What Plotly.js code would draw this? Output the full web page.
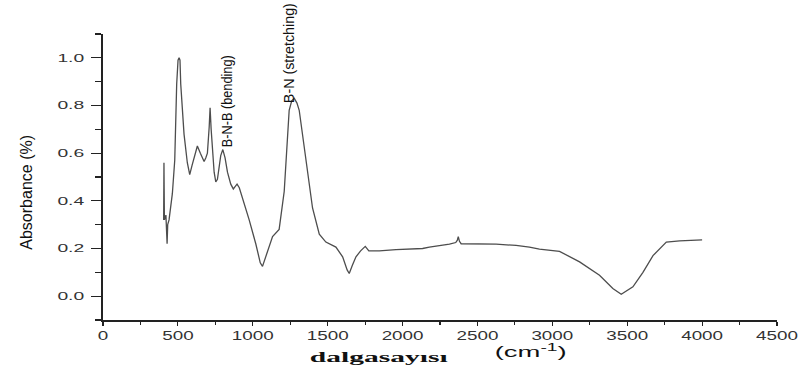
<!DOCTYPE html>
<html>
<head>
<meta charset="utf-8">
<script src="https://cdn.plot.ly/plotly-3.0.1.min.js"></script>
<style>html,body{margin:0;padding:0;background:#fff;}#chart{width:808px;height:376px;}</style>
</head>
<body>
<div id="chart"></div>
<script>
// Wavenumber (cm^-1)
const wavenumber = [405, 407, 410, 420, 428, 432, 441, 463, 479, 492, 501, 508, 514, 519, 541, 563, 579, 595, 608, 630, 650, 675, 686, 697, 709, 715, 722, 731, 742, 753, 764, 786, 800, 815, 831, 853, 870, 882, 895, 910, 931, 976, 1020, 1050, 1065, 1087, 1132, 1176, 1210, 1243, 1260, 1277, 1295, 1310, 1355, 1399, 1444, 1488, 1555, 1600, 1630, 1644, 1665, 1689, 1720, 1751, 1775, 1845, 1956, 2134, 2179, 2313, 2355, 2366, 2372, 2380, 2391, 2469, 2625, 2758, 2847, 2914, 3048, 3182, 3315, 3404, 3460, 3538, 3605, 3672, 3716, 3761, 3850, 4000];
// Absorbance
const absorbance = [0.32, 0.56, 0.32, 0.34, 0.22, 0.30, 0.32, 0.43, 0.57, 0.89, 0.99, 1.00, 0.99, 0.89, 0.68, 0.56, 0.51, 0.55, 0.58, 0.63, 0.60, 0.565, 0.58, 0.60, 0.71, 0.79, 0.70, 0.62, 0.52, 0.48, 0.49, 0.59, 0.615, 0.58, 0.52, 0.47, 0.45, 0.46, 0.47, 0.455, 0.415, 0.32, 0.22, 0.14, 0.125, 0.165, 0.25, 0.28, 0.44, 0.78, 0.82, 0.83, 0.81, 0.78, 0.58, 0.37, 0.26, 0.227, 0.206, 0.165, 0.11, 0.095, 0.13, 0.165, 0.19, 0.209, 0.19, 0.19, 0.195, 0.20, 0.206, 0.218, 0.225, 0.235, 0.25, 0.23, 0.22, 0.22, 0.218, 0.213, 0.206, 0.197, 0.188, 0.144, 0.088, 0.032, 0.008, 0.039, 0.10, 0.17, 0.20, 0.227, 0.232, 0.236];
// Axis ticks
const xTicks = [0, 500, 1000, 1500, 2000, 2500, 3000, 3500, 4000, 4500];
const yTicks = [0.0, 0.2, 0.4, 0.6, 0.8, 1.0];
// Texts
const peakLabels = ["B-N-B (bending)", "B-N (stretching)"];
const peakLabelX = [829, 1244];
const peakLabelY = [0.816, 1.021];
const xTitleWord = "dalgasayısı";
const xTitleUnit = "(cm<sup>-1</sup>)";
const yTitle = "Absorbance (%)";

const sans = "Liberation Sans, Arial, sans-serif";

const trace = {
  x: wavenumber, y: absorbance, type: 'scatter', mode: 'lines',
  line: {color: '#4d4d4d', width: 1.3}, hoverinfo: 'skip'
};

const annotations = peakLabels.map((t, i) => ({
  text: t, x: peakLabelX[i], y: peakLabelY[i], xref: 'x', yref: 'y',
  textangle: -90, showarrow: false, xanchor: 'center', yanchor: 'middle',
  font: {family: sans, size: 14, color: '#111'}
}));
annotations.push({
  text: '<b>' + xTitleWord + '</b>', xref: 'paper', yref: 'paper', x: 0.409, y: -0.13,
  xanchor: 'center', yanchor: 'middle', showarrow: false,
  font: {family: 'Liberation Serif, Times New Roman, serif', size: 14, color: '#111'}
});
annotations.push({
  text: xTitleUnit, xref: 'paper', yref: 'paper', x: 0.634, y: -0.106,
  xanchor: 'center', yanchor: 'middle', showarrow: false,
  font: {family: sans, size: 15, color: '#111'}
});
annotations.push({
  text: yTitle, xref: 'paper', yref: 'paper', x: -0.113, y: 0.448,
  xanchor: 'center', yanchor: 'middle', showarrow: false, textangle: -90,
  font: {family: sans, size: 16, color: '#111'}
});
// target drawn lengths (px) of the annotation texts, same order as annotations
const annotationLengths = [92, 100, 138, 72, null];

const layout = {
  width: 808, height: 376,
  margin: {l: 103, r: 31, t: 34, b: 56, pad: 0},
  paper_bgcolor: '#fff', plot_bgcolor: '#fff',
  showlegend: false,
  font: {family: sans, size: 12, color: '#333'},
  xaxis: {
    range: [0, 4500], tickvals: xTicks, ticktext: xTicks.map(String),
    ticks: 'outside', ticklen: 4, tickwidth: 1.2, tickcolor: '#222',
    showline: true, linecolor: '#222', linewidth: 1.6,
    showgrid: false, zeroline: false, ticklabelstandoff: 0,
    minor: {dtick: 250, tick0: 0, ticks: 'outside', ticklen: 3, tickcolor: '#222', showgrid: false},
    tickfont: {family: sans, size: 12, color: '#333'}
  },
  yaxis: {
    range: [-0.1, 1.1], tickvals: yTicks, ticktext: yTicks.map(v => v.toFixed(1)),
    ticks: 'outside', ticklen: 10, tickwidth: 1.2, tickcolor: '#222',
    showline: true, linecolor: '#222', linewidth: 1.6,
    showgrid: false, zeroline: false, ticklabelstandoff: 5,
    minor: {dtick: 0.1, tick0: 0, ticks: 'outside', ticklen: 6, tickcolor: '#222', showgrid: false},
    tickfont: {family: sans, size: 11, color: '#333'}
  },
  annotations: annotations
};

function stretch(el, factor, target) {
  const w = el.getComputedTextLength();
  if (!w) return;
  const len = target != null ? target : w * factor;
  el.setAttribute('textLength', len.toFixed(1));
  el.setAttribute('lengthAdjust', 'spacingAndGlyphs');
}

Plotly.newPlot('chart', [trace], layout, {displayModeBar: false, staticPlot: true}).then(gd => {
  gd.querySelectorAll('.xtick text').forEach(t => stretch(t, 1.57));
  gd.querySelectorAll('.ytick text').forEach(t => stretch(t, 1.75));
  gd.querySelectorAll('.annotation-text').forEach((t, i) => {
    if (annotationLengths[i] != null) stretch(t, 1, annotationLengths[i]);
  });
});
</script>
</body>
</html>
